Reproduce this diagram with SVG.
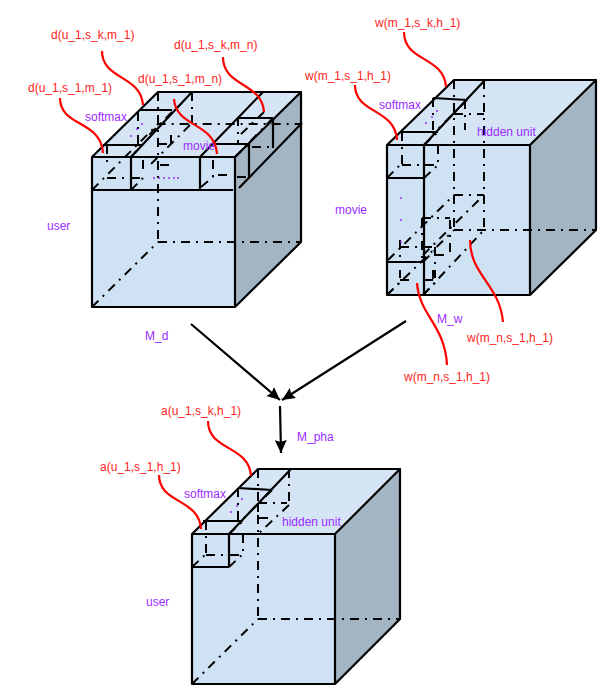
<svg xmlns="http://www.w3.org/2000/svg" width="608" height="694" viewBox="0 0 608 694">
<style>
.ff{fill:#cfe2f3}.ft{fill:#d5e5f5}.fs{fill:#a3b4c3}
.s{fill:none;stroke:#000;stroke-width:2.2;stroke-linejoin:round}
.h{fill:none;stroke:#000;stroke-width:2;stroke-dasharray:9 6 2 6}
.r{fill:none;stroke:#f00;stroke-width:2.2}
.a{fill:none;stroke:#000;stroke-width:2.2}
text{font-family:"Liberation Sans",Arial,sans-serif;font-size:12px}
.lr{fill:#f22}.lp{fill:#9a2cff}
.d{fill:#9a2cff}
</style>
<defs>
<marker id="ah" markerUnits="userSpaceOnUse" markerWidth="16" markerHeight="16" refX="13" refY="6" orient="auto"><path d="M0,0L13,6L0,12L2,6Z" fill="#000"/></marker>
</defs>

<g id="cube-d">
<path class="ff" d="M92,157H235V307H92Z"/>
<path class="ft" d="M92,157L158,92H301L235,157Z"/>
<path class="fs" d="M235,157L301,92V242L235,307Z"/>
<path class="h" d="M158,92V242M158,242H301M92,307L158,242"/>
<path class="h" d="M92,190L158,124H301M107,145V168M107,178H131M92,190L107,175M131,157L143,144M131,178H142M143,160V174M131,190L143,178"/>
<path class="h" d="M138,112V145M158,144H171M171,135V144M192,92V125M172,112L148,136M190,125L150,165M160,165H172"/>
<path class="h" d="M238,117V143M213,160V177M218,175H233M201,187L213,177M235,157L250,143M237,177H249M252,147H273M264,112L240,135M273,118L235,157"/>
<path class="s" d="M92,157H235V307H92ZM235,157L301,92V242L235,307M92,157L158,92H301L235,157"/>
<path class="s" d="M92,190H233M131,157V190M200,157V190M239,188L302,123M131,157L192,92M200,157L263,92M140,110H172M103,145H143M237,118H273M212,144H250M273,118V148M249,144V177"/>
<circle class="d" cx="142" cy="124" r="1"/><circle class="d" cx="137" cy="129" r="1"/><circle class="d" cx="131" cy="136" r="1"/>
<circle class="d" cx="154" cy="178" r="1"/><circle class="d" cx="159" cy="178" r="1"/><circle class="d" cx="164" cy="178" r="1"/><circle class="d" cx="169" cy="178" r="1"/><circle class="d" cx="174" cy="178" r="1"/><circle class="d" cx="178" cy="178" r="1"/>
</g>

<g id="cube-w">
<path class="ff" d="M387,145H530V295H387Z"/>
<path class="ft" d="M387,145L454,80H596L530,145Z"/>
<path class="fs" d="M530,145L596,80V230L530,295Z"/>
<path class="h" d="M454,80V195M454,195H484M484,80V230M454,230H596M387,295L454,230M423,295L484,230M388,260L454,195M423,255L484,195M454,195V232"/>
<path class="h" d="M402,132V164M402,165H438M387,178L402,163M424,178L438,165M438,145V162M424,145L438,132M433,98V130M454,114H484M465,100V130M467,100L433,134"/>
<path class="h" d="M422,218H450M422,218V262M400,247H435M435,247V278M435,255H450M450,220V255M400,240V258M423,262L435,250M400,270V278M400,280H410M387,295L400,282M424,280H433M433,270V280M423,295L435,283"/>
<path class="s" d="M387,145H530V295H387ZM530,145L596,80V230L530,295M387,145L454,80H596L530,145"/>
<path class="s" d="M424,145V295M424,145L485,80M387,178H424M387,262H424M402,132H438M433,98L467,100"/>
<circle class="d" cx="437" cy="111" r="1"/><circle class="d" cx="432" cy="117" r="1"/><circle class="d" cx="426" cy="123" r="1"/>
<circle class="d" cx="401" cy="198" r="1"/><circle class="d" cx="401" cy="220" r="1"/><circle class="d" cx="401" cy="242" r="1"/>
</g>

<g id="cube-a">
<path class="ff" d="M192,534H335V684H192Z"/>
<path class="ft" d="M192,534L258,469H400L335,534Z"/>
<path class="fs" d="M335,534L400,469V619L335,684Z"/>
<path class="h" d="M258,469V619M258,619H400M192,684L258,619"/>
<path class="h" d="M206,521V553M206,555H229M192,567L206,554M243,534V552M230,555H243M229,567L243,554M229,534L243,521"/>
<path class="h" d="M238,488V520M258,503H287M289,469V503M268,518H258M258,503V522M272,490L240,522M289,505L258,534"/>
<path class="s" d="M192,534H335V684H192ZM335,534L400,469V619L335,684M192,534L258,469H400L335,534"/>
<path class="s" d="M229,534V567M192,567H229M229,534L291,469M203,521H243M238,488L272,490"/>
<circle class="d" cx="242" cy="499" r="1"/><circle class="d" cx="237" cy="506" r="1"/><circle class="d" cx="231" cy="512" r="1"/>
</g>

<g id="connectors">
<path class="a" marker-end="url(#ah)" d="M191,324L280,400"/>
<path class="a" marker-end="url(#ah)" d="M406,321L282,400"/>
<path class="a" marker-end="url(#ah)" d="M280,406L281,453"/>
<path class="r" d="M60,98C60,127 101,120 103,153"/>
<path class="r" d="M102,51C102,80 141,75 143,105"/>
<path class="r" d="M174,99C176,128 215,122 217,154"/>
<path class="r" d="M223,57C223,87 262,82 264,112"/>
<path class="r" d="M404,32C404,62 444,56 446,87"/>
<path class="r" d="M355,85C355,114 395,108 397,140"/>
<path class="r" d="M417,283C419,315 445,325 447,365"/>
<path class="r" d="M470,240C470,275 500,285 503,322"/>
<path class="r" d="M208,421C208,451 249,445 251,476"/>
<path class="r" d="M159,475C159,504 199,498 201,529"/>
</g>

<g id="labels">
<text class="lr" x="51" y="39">d(u_1,s_k,m_1)</text>
<text class="lr" x="174" y="49">d(u_1,s_k,m_n)</text>
<text class="lr" x="138" y="83">d(u_1,s_1,m_n)</text>
<text class="lr" x="28" y="92">d(u_1,s_1,m_1)</text>
<text class="lp" x="85" y="121">softmax</text>
<text class="lp" x="183" y="150">movie</text>
<text class="lp" x="47" y="230">user</text>
<text class="lp" x="145" y="340">M_d</text>
<text class="lr" x="375" y="27">w(m_1,s_k,h_1)</text>
<text class="lr" x="305" y="80">w(m_1,s_1,h_1)</text>
<text class="lp" x="379" y="109">softmax</text>
<text class="lp" x="477" y="136">hidden unit</text>
<text class="lp" x="335" y="214">movie</text>
<text class="lp" x="437" y="323">M_w</text>
<text class="lr" x="467" y="342">w(m_n,s_1,h_1)</text>
<text class="lr" x="404" y="381">w(m_n,s_1,h_1)</text>
<text class="lp" x="297" y="441">M_pha</text>
<text class="lr" x="161" y="415">a(u_1,s_k,h_1)</text>
<text class="lr" x="100" y="471">a(u_1,s_1,h_1)</text>
<text class="lp" x="184" y="498">softmax</text>
<text class="lp" x="282" y="526">hidden unit</text>
<text class="lp" x="146" y="606">user</text>
</g>
</svg>
